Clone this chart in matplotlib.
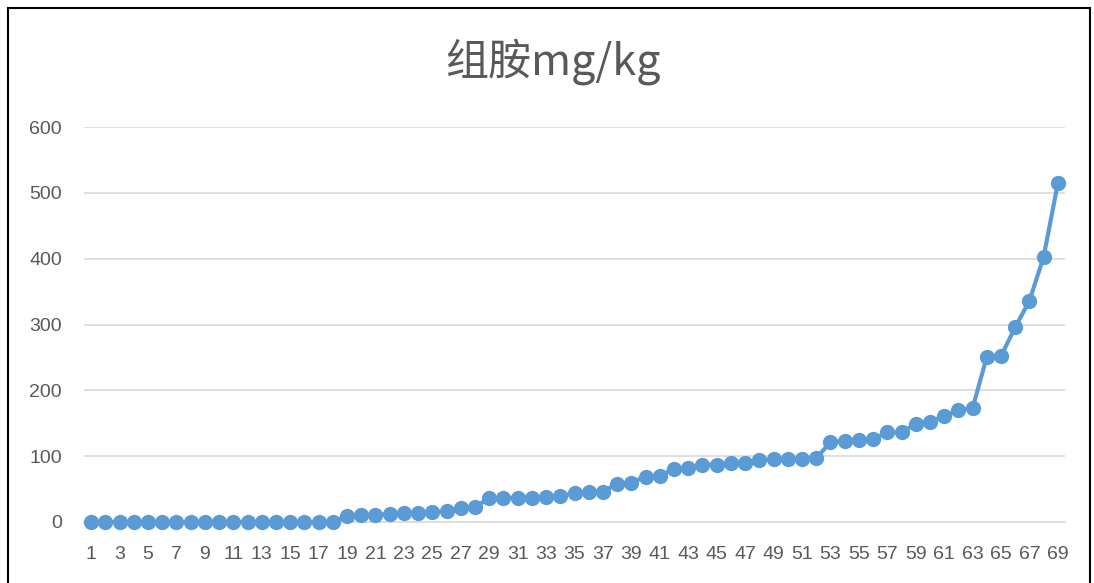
import matplotlib
matplotlib.use('Agg')
import matplotlib.pyplot as plt
import numpy as np
from matplotlib.patches import Rectangle

plt.rcParams['font.family'] = ['Noto Sans CJK SC', 'DejaVu Sans']

# sample number and histamine content (mg/kg), sorted ascending
samples = list(range(1, 70))
histamine = [0] * 18 + [
    9, 10, 11, 12, 13, 14, 15, 16, 22, 23,
    36, 36, 37, 37, 38, 39, 44, 46, 46, 58,
    60, 69, 70, 81, 82, 87, 87, 90, 90, 94,
    95, 95, 96, 97, 121, 123, 124, 126, 136, 136,
    149, 152, 161, 170, 173, 251, 252, 296, 336, 403,
    515,
]
title = '组胺mg/kg'
y_ticks = [0, 100, 200, 300, 400, 500, 600]
x_tick_labels = [str(s) for s in samples[::2]]

blue = '#5B9BD5'
grey_text = '#595959'

fig = plt.figure(figsize=(10.94, 5.83), dpi=100)
ax = fig.add_axes([84 / 1094, 1 - 522 / 583, 981 / 1094, 395 / 583])

ax.plot(samples, histamine, '-o', color=blue, linewidth=3, markersize=11,
        markeredgewidth=0, solid_capstyle='round', zorder=3, clip_on=False)

ax.set_xlim(0.5, 69.5)
ax.set_ylim(0, 600)
ax.set_yticks(y_ticks)
ax.set_xticks(samples[::2])
ax.set_xticklabels(x_tick_labels)
ax.tick_params(axis='both', length=0, labelsize=14, labelcolor=grey_text)
ax.tick_params(axis='y', pad=16)
ax.tick_params(axis='x', pad=17)
for lab in ax.get_xticklabels() + ax.get_yticklabels():
    lab.set_fontfamily(['Liberation Sans', 'DejaVu Sans'])

ax.grid(axis='y', color='#D9D9D9', linewidth=1.2)
ax.set_axisbelow(True)
for side in ['top', 'right', 'left']:
    ax.spines[side].set_visible(False)
ax.spines['bottom'].set_color('#D9D9D9')
ax.spines['bottom'].set_linewidth(1.2)

fig.text(553 / 1094, 1 - 62 / 583, title, ha='center', va='center',
         fontsize=31, color=grey_text)

# chart frame
fig.patches.append(Rectangle((8 / 1094, -0.05), 1082 / 1094, 1.05 - 8 / 583,
                             transform=fig.transFigure, fill=False,
                             edgecolor='black', linewidth=1.5))

fig.savefig('out.png', dpi=100)
